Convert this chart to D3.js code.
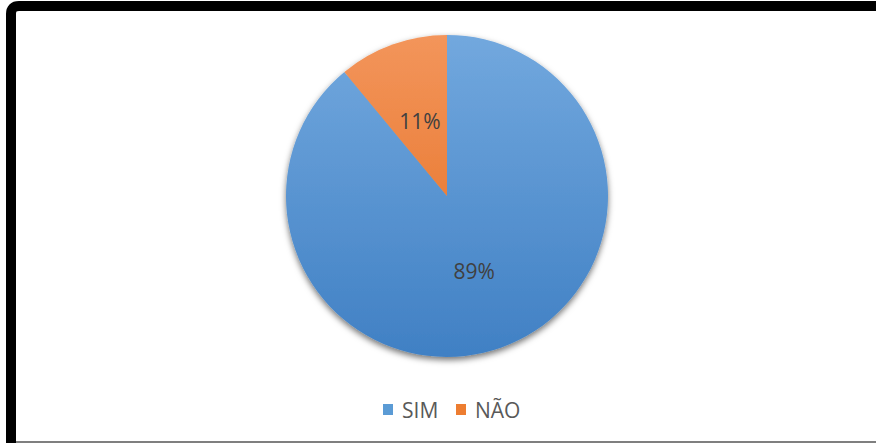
<!DOCTYPE html>
<html><head><meta charset="utf-8">
<script src="https://cdn.jsdelivr.net/npm/d3@7"></script>
<style>html,body{margin:0;padding:0;background:#fff;}svg{display:block;}</style>
</head><body>
<script>
const categories = ["SIM", "NÃO"];
const values = [89, 11];
const labels = ["89%", "11%"];

const W = 876, H = 445;
const svg = d3.select("body").append("svg").attr("width", W).attr("height", H);
const defs = svg.append("defs");

const grads = [["#72a8de", "#4080c4"], ["#f3955b", "#e36b1c"]];
grads.forEach((g, i) => {
  const lg = defs.append("linearGradient").attr("id", "g" + i)
    .attr("gradientUnits", "userSpaceOnUse").attr("x1", 0).attr("y1", -161).attr("x2", 0).attr("y2", 161);
  lg.append("stop").attr("offset", "0%").attr("stop-color", g[0]);
  lg.append("stop").attr("offset", "100%").attr("stop-color", g[1]);
});
const f = defs.append("filter").attr("id", "sh").attr("x", "-20%").attr("y", "-20%").attr("width", "140%").attr("height", "140%");
f.append("feDropShadow").attr("dx", 0).attr("dy", 3).attr("stdDeviation", 3).attr("flood-color", "#000").attr("flood-opacity", 0.55);

// frame
svg.append("path").attr("d", "M11,443 L11,14 Q11,6 19,6 L876,6").attr("fill", "none").attr("stroke", "#000").attr("stroke-width", 10);
svg.append("line").attr("x1", 16).attr("x2", 876).attr("y1", 442).attr("y2", 442).attr("stroke", "#7f7f7f").attr("stroke-width", 2);

const cx = 447, cy = 196, R = 161;
const pie = d3.pie().sort(null).value(d => d)(values);
const arc = d3.arc().innerRadius(0).outerRadius(R);
const lblArc = d3.arc().innerRadius(80).outerRadius(80);
const color = d3.scaleOrdinal().domain(categories).range(["url(#g0)", "url(#g1)"]);
const g = svg.append("g").attr("transform", `translate(${cx},${cy})`);
const pg = g.append("g").attr("filter", "url(#sh)");
pg.selectAll("path").data(pie).join("path")
  .attr("d", arc).attr("fill", (d, i) => color(categories[i]));
g.selectAll("text").data(pie).join("text")
  .attr("transform", d => `translate(${lblArc.centroid(d)})`)
  .attr("text-anchor", "middle").attr("dominant-baseline", "central")
  .attr("font-family", "'Open Sans', sans-serif").attr("font-size", 21).attr("fill", "#404040")
  .text((d, i) => labels[i]);

// legend
const legendColors = ["#5b9bd5", "#ed7d31"];
const leg = svg.append("g").attr("transform", "translate(383,409)");
const items = [{x: 0}, {x: 73}];
categories.forEach((c, i) => {
  const it = leg.append("g").attr("transform", `translate(${items[i].x},0)`);
  it.append("rect").attr("x", 0).attr("y", -5).attr("width", 10).attr("height", 11).attr("fill", legendColors[i]);
  it.append("text").attr("x", 19).attr("y", 1).attr("dominant-baseline", "central")
    .attr("font-family", "'Open Sans', sans-serif").attr("font-size", 21).attr("fill", "#595959").text(c);
});
</script>
</body></html>
